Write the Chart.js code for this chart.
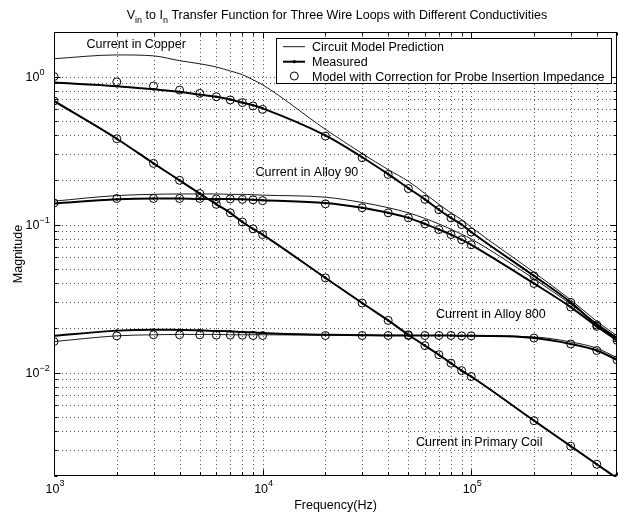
<!DOCTYPE html>
<html>
<head>
<meta charset="utf-8">
<script src="https://cdn.jsdelivr.net/npm/chart.js@4.4.0/dist/chart.umd.min.js"></script>
<style>
    body { margin: 0; background: #fff; }
    canvas { display: block; }
</style>
</head>
<body>
<canvas id="tfChart" width="628" height="516"></canvas>
<script>
// ----------------------
//  DATA
// ----------------------
const frequencies = [1000, 2000, 3000, 4000, 5000, 6000, 7000, 8000, 9000, 10000,
    20000, 30000, 40000, 50000, 60000, 70000, 80000, 90000, 100000,
    200000, 300000, 400000, 500000];

//  COPPER
const copperModel = [1.32, 1.40, 1.38, 1.28, 1.22, 1.16, 1.09, 1.03, 0.95, 0.88,
    0.44, 0.302, 0.235, 0.196, 0.162, 0.137, 0.120, 0.108, 0.096,
    0.0475, 0.031, 0.0222, 0.0177];
const copperMeasured = [0.91, 0.86, 0.82, 0.79, 0.755, 0.73, 0.70, 0.667, 0.64, 0.61,
    0.40, 0.285, 0.219, 0.176, 0.148, 0.126, 0.111, 0.100, 0.089,
    0.045, 0.0298, 0.021, 0.0171];
const copperCorrected = [1.0, 0.92, 0.864, 0.81, 0.77, 0.73, 0.695, 0.667, 0.633, 0.60,
    0.396, 0.283, 0.218, 0.175, 0.148, 0.126, 0.111, 0.100, 0.089,
    0.045, 0.0298, 0.021, 0.0171];

//  ALLOY 90
const alloy90Model = [0.144, 0.157, 0.160, 0.161, 0.161, 0.161, 0.160, 0.160, 0.159, 0.158,
    0.153, 0.141, 0.130, 0.120, 0.110, 0.101, 0.093, 0.086, 0.080,
    0.043, 0.029, 0.0215, 0.0172];
const alloy90Measured = [0.139, 0.148, 0.150, 0.150, 0.149, 0.149, 0.149, 0.148, 0.147, 0.146,
    0.140, 0.130, 0.120, 0.111, 0.101, 0.0925, 0.0856, 0.079, 0.073,
    0.040, 0.0277, 0.0205, 0.0165];
const alloy90Corrected = [0.140, 0.150, 0.150, 0.150, 0.150, 0.149, 0.149, 0.148, 0.147, 0.145,
    0.138, 0.130, 0.120, 0.111, 0.101, 0.0925, 0.0856, 0.079, 0.073,
    0.040, 0.0277, 0.0205, 0.0165];

//  ALLOY 800
const alloy800Model = [0.0162, 0.0177, 0.0180, 0.0181, 0.0181, 0.0181, 0.0180, 0.0180, 0.0180, 0.0180,
    0.0179, 0.0179, 0.0179, 0.0178, 0.0178, 0.0178, 0.0178, 0.0177, 0.0177,
    0.0174, 0.0161, 0.0146, 0.0126];
const alloy800Measured = [0.0177, 0.0192, 0.0195, 0.0194, 0.0193, 0.0191, 0.0190, 0.0188, 0.0187, 0.0185,
    0.0180, 0.0179, 0.0178, 0.0178, 0.0178, 0.0178, 0.0178, 0.0177, 0.0177,
    0.0171, 0.0156, 0.0141, 0.0122];
const alloy800Corrected = [0.0162, 0.0177, 0.0180, 0.0180, 0.0180, 0.0179, 0.0179, 0.0179, 0.0178, 0.0178,
    0.0178, 0.0178, 0.0178, 0.0178, 0.0178, 0.0178, 0.0178, 0.0177, 0.0177,
    0.0171, 0.0156, 0.0141, 0.0122];

//  PRIMARY COIL
const primaryModel = [0.684, 0.380, 0.259, 0.199, 0.162, 0.137, 0.120, 0.104, 0.0935, 0.0856,
    0.0436, 0.0295, 0.0225, 0.0180, 0.0152, 0.0132, 0.01157, 0.0103, 0.0094,
    0.00473, 0.00318, 0.00240, 0.00193];
const primaryMeasured = [0.684, 0.380, 0.259, 0.199, 0.162, 0.137, 0.120, 0.104, 0.0935, 0.0856,
    0.0436, 0.0295, 0.0225, 0.0180, 0.0152, 0.0132, 0.01157, 0.0103, 0.0094,
    0.00473, 0.00318, 0.00240, 0.00193];
const primaryCorrected = [0.684, 0.380, 0.259, 0.199, 0.162, 0.137, 0.120, 0.104, 0.0935, 0.0856,
    0.0436, 0.0295, 0.0225, 0.0180, 0.0152, 0.0132, 0.01157, 0.0103, 0.0094,
    0.00473, 0.00318, 0.00240, 0.00193];

//  AXES
const xRange = [1000, 500000];
const yRange = [0.002, 2];
const xGridTicks = [1000, 2000, 3000, 4000, 5000, 6000, 7000, 8000, 9000,
    10000, 20000, 30000, 40000, 50000, 60000, 70000, 80000, 90000,
    100000, 200000, 300000, 400000, 500000];
const yGridTicks = [0.002, 0.003, 0.004, 0.005, 0.006, 0.007, 0.008, 0.009,
    0.01, 0.02, 0.03, 0.04, 0.05, 0.06, 0.07, 0.08, 0.09,
    0.1, 0.2, 0.3, 0.4, 0.5, 0.6, 0.7, 0.8, 0.9, 1, 2];
const xTickValues = [1000, 10000, 100000];
const xTickExps = ['3', '4', '5'];
const yTickValues = [1, 0.1, 0.01];
const yTickExps = ['0', '\u22121', '\u22122'];

//  TEXT
const legendLabels = ['Circuit Model Prediction', 'Measured', 'Model with Correction for Probe Insertion Impedance'];
const curveLabels = ['Current in Copper', 'Current in Alloy 90', 'Current in Alloy 800', 'Current in Primary Coil'];
const xTitle = 'Frequency(Hz)';
const yTitle = 'Magnitude';

// ----------------------
//  DATASETS
// ----------------------
const FONT = '"Liberation Sans", Arial, Helvetica, sans-serif';

function toPoints(values) {
    return frequencies.map((f, i) => ({ x: f, y: values[i] }));
}

function modelSet(values) {
    return {
        data: toPoints(values),
        borderColor: '#000',
        borderWidth: 0.9,
        pointRadius: 0,
        cubicInterpolationMode: 'monotone',
        fill: false,
    };
}

function measuredSet(values) {
    return {
        data: toPoints(values),
        borderColor: '#000',
        borderWidth: 2,
        pointRadius: 1.3,
        pointBorderWidth: 0,
        pointBackgroundColor: '#000',
        cubicInterpolationMode: 'monotone',
        fill: false,
    };
}

function correctedSet(values) {
    return {
        data: toPoints(values),
        showLine: false,
        pointRadius: 4,
        pointBorderWidth: 1,
        pointBorderColor: '#000',
        pointBackgroundColor: 'rgba(0,0,0,0)',
    };
}

const datasets = [
    modelSet(copperModel), measuredSet(copperMeasured), correctedSet(copperCorrected),
    modelSet(alloy90Model), measuredSet(alloy90Measured), correctedSet(alloy90Corrected),
    modelSet(alloy800Model), measuredSet(alloy800Measured), correctedSet(alloy800Corrected),
    modelSet(primaryModel), measuredSet(primaryMeasured), correctedSet(primaryCorrected),
];

// ----------------------
//  MATLAB STYLE AXES PLUGIN
// ----------------------
function isMajor(v) {
    const l = Math.log10(v);
    return Math.abs(l - Math.round(l)) < 1e-9;
}

function drawPower(ctx, x, y, exp, supDy) {
    ctx.font = '12.5px ' + FONT;
    const wb = ctx.measureText('10').width;
    ctx.fillText('10', x, y);
    ctx.font = '9px ' + FONT;
    ctx.fillText(exp, x + wb, y - supDy);
}

function powerWidth(ctx, exp) {
    ctx.font = '12.5px ' + FONT;
    const wb = ctx.measureText('10').width;
    ctx.font = '9px ' + FONT;
    return wb + ctx.measureText(exp).width;
}

const matlabAxes = {
    id: 'matlabAxes',
    beforeDraw(chart) {
        const ctx = chart.ctx;
        ctx.save();
        ctx.fillStyle = '#fff';
        ctx.fillRect(0, 0, chart.width, chart.height);
        ctx.restore();
    },
    beforeDatasetsDraw(chart) {
        const { ctx, chartArea: a, scales: { x, y } } = chart;
        ctx.save();
        ctx.strokeStyle = '#555';
        ctx.lineWidth = 1;
        ctx.setLineDash([1, 3]);
        xGridTicks.forEach(v => {
            if (v <= xRange[0] || v >= xRange[1]) return;
            const px = Math.round(x.getPixelForValue(v)) + 0.5;
            ctx.beginPath();
            ctx.moveTo(px, a.top);
            ctx.lineTo(px, a.bottom);
            ctx.stroke();
        });
        yGridTicks.forEach(v => {
            if (v <= yRange[0] || v >= yRange[1]) return;
            const py = Math.round(y.getPixelForValue(v)) + 0.5;
            ctx.beginPath();
            ctx.moveTo(a.left, py);
            ctx.lineTo(a.right, py);
            ctx.stroke();
        });
        ctx.restore();
    },
    afterDatasetsDraw(chart) {
        const { ctx, chartArea: a, scales: { x, y } } = chart;
        const L = Math.round(a.left) + 0.5, R = Math.round(a.right) - 0.5;
        const T = Math.round(a.top) + 0.5, B = Math.round(a.bottom) - 0.5;
        ctx.save();
        ctx.strokeStyle = '#000';
        ctx.fillStyle = '#000';
        ctx.lineWidth = 1;

        // BOX
        ctx.strokeRect(L, T, R - L, B - T);

        // TICK MARKS
        ctx.beginPath();
        xGridTicks.forEach(v => {
            const px = Math.round(x.getPixelForValue(v)) + 0.5;
            const len = isMajor(v) ? 6 : 3;
            ctx.moveTo(px, B); ctx.lineTo(px, B - len);
            ctx.moveTo(px, T); ctx.lineTo(px, T + len);
        });
        yGridTicks.forEach(v => {
            const py = Math.round(y.getPixelForValue(v)) + 0.5;
            const len = isMajor(v) ? 6 : 3;
            ctx.moveTo(L, py); ctx.lineTo(L + len, py);
            ctx.moveTo(R, py); ctx.lineTo(R - len, py);
        });
        ctx.stroke();

        // TICK LABELS
        ctx.textAlign = 'left';
        ctx.textBaseline = 'alphabetic';
        xTickValues.forEach((v, i) => {
            const px = x.getPixelForValue(v);
            const w = powerWidth(ctx, xTickExps[i]);
            drawPower(ctx, px - w / 2 + 1, 493, xTickExps[i], 7);
        });
        yTickValues.forEach((v, i) => {
            const py = y.getPixelForValue(v);
            drawPower(ctx, 25.5, py + 4.5, yTickExps[i], 6);
        });

        // AXIS TITLES
        ctx.font = '12.5px ' + FONT;
        ctx.textAlign = 'center';
        ctx.fillText(xTitle, (a.left + a.right) / 2, 509);
        ctx.save();
        ctx.translate(21.7, (a.top + a.bottom) / 2);
        ctx.rotate(-Math.PI / 2);
        ctx.fillText(yTitle, 0, 0);
        ctx.restore();

        // TITLE WITH SUBSCRIPTS
        const parts = [['V', 0], ['in', 1], [' to I', 0], ['n', 1],
            [' Transfer Function for Three Wire Loops with Different Conductivities', 0]];
        let total = 0;
        parts.forEach(p => {
            ctx.font = (p[1] ? '9px ' : '12.5px ') + FONT;
            total += ctx.measureText(p[0]).width;
        });
        let tx = 337 - total / 2;
        ctx.textAlign = 'left';
        parts.forEach(p => {
            ctx.font = (p[1] ? '9px ' : '12.5px ') + FONT;
            ctx.fillText(p[0], tx, p[1] ? 23 : 19);
            tx += ctx.measureText(p[0]).width;
        });

        // CURVE LABELS
        ctx.font = '12.5px ' + FONT;
        ctx.fillText(curveLabels[0], 86.5, 48.3);
        ctx.fillText(curveLabels[1], 255.5, 175.7);
        ctx.fillText(curveLabels[2], 436, 318);
        ctx.fillText(curveLabels[3], 416, 445.7);

        // LEGEND
        ctx.fillStyle = '#fff';
        ctx.fillRect(276.5, 38.5, 335, 45);
        ctx.strokeRect(276.5, 38.5, 335, 45);
        ctx.fillStyle = '#000';
        const rows = [46.7, 61.7, 76];
        ctx.lineWidth = 0.9;
        ctx.beginPath();
        ctx.moveTo(283, rows[0]); ctx.lineTo(305, rows[0]);
        ctx.stroke();
        ctx.lineWidth = 2;
        ctx.beginPath();
        ctx.moveTo(283, rows[1]); ctx.lineTo(305, rows[1]);
        ctx.stroke();
        ctx.beginPath();
        ctx.arc(294.3, rows[1], 1.6, 0, Math.PI * 2);
        ctx.fill();
        ctx.lineWidth = 1;
        ctx.beginPath();
        ctx.arc(294.3, rows[2], 4, 0, Math.PI * 2);
        ctx.stroke();
        ctx.font = '12.5px ' + FONT;
        legendLabels.forEach((t, i) => ctx.fillText(t, 312, rows[i] + 4.5));

        ctx.restore();
    }
};

// ----------------------
//  CHART
// ----------------------
const ctx = document.getElementById('tfChart').getContext('2d');
const tfChart = new Chart(ctx, {
    type: 'line',
    data: { datasets: datasets },
    options: {
        responsive: false,
        animation: false,
        devicePixelRatio: 1,
        layout: { padding: { left: 54, top: 32, right: 11, bottom: 40 } },
        plugins: {
            legend: { display: false },
            title: { display: false },
            tooltip: { enabled: false },
        },
        scales: {
            x: {
                type: 'logarithmic',
                display: false,
                min: xRange[0],
                max: xRange[1],
            },
            y: {
                type: 'logarithmic',
                display: false,
                min: yRange[0],
                max: yRange[1],
            },
        },
    },
    plugins: [matlabAxes],
});
</script>
</body>
</html>
